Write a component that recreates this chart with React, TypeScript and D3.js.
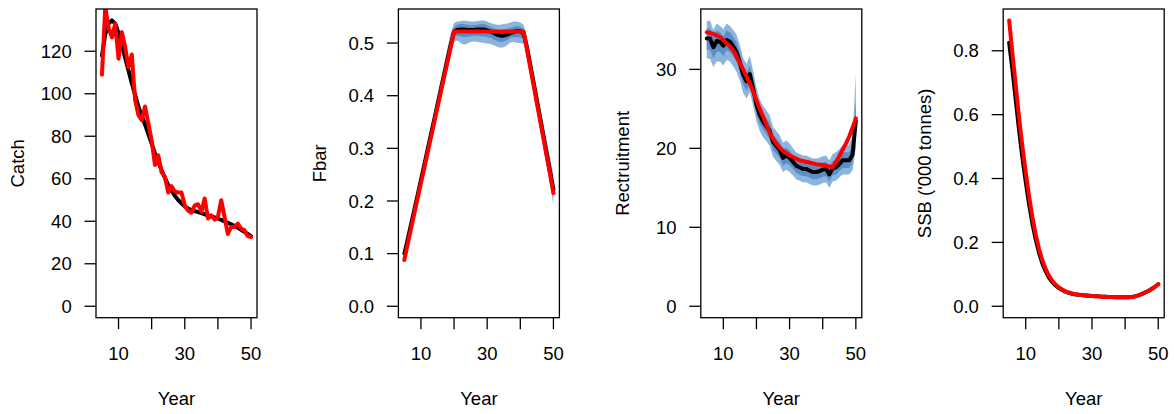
import React from "react";
import * as d3 from "d3";

// ---------- data (years 5..50) ----------
const years = [5, 6, 7, 8, 9, 10, 11, 12, 13, 14, 15, 16, 17, 18, 19, 20, 21, 22, 23, 24, 25, 26, 27, 28, 29, 30, 31, 32, 33, 34, 35, 36, 37, 38, 39, 40, 41, 42, 43, 44, 45, 46, 47, 48, 49, 50];

const xTicks = [10, 20, 30, 40, 50];
const xTickLabels = [10, 30, 50];

// Catch
const catchMedian = [118, 128, 133, 134.5, 133, 128.5, 123, 117, 111, 105, 99.5, 94, 89.5, 85.5, 81, 76.5, 72, 68, 64, 60.5, 57, 54.5, 52, 50, 48.5, 47, 46, 45.3, 44.8, 44.3, 43.8, 43.3, 42.8, 42.3, 41.8, 41.3, 40.6, 40, 39.3, 38.6, 37.8, 37, 36, 35, 34, 33];
const catchObs = [109, 141, 131, 126.5, 133, 116.5, 129, 122, 112.5, 118.5, 97, 90, 87.5, 94, 86, 78, 66.5, 71, 63, 61, 53.5, 56.5, 54, 53.5, 53.5, 47.5, 45, 44, 47.5, 48, 44.5, 50.7, 41.3, 42.8, 40.8, 42, 49.9, 42, 34, 37.3, 37.3, 38.9, 36.5, 35.8, 33, 32.6];
const catchTicks = [0, 20, 40, 60, 80, 100, 120];

// Fbar
const fbarMedian = [0.1, 0.127, 0.155, 0.183, 0.211, 0.24, 0.268, 0.297, 0.326, 0.354, 0.383, 0.412, 0.44, 0.469, 0.497, 0.522, 0.525, 0.526, 0.526, 0.525, 0.525, 0.525, 0.526, 0.526, 0.526, 0.524, 0.522, 0.519, 0.516, 0.514, 0.514, 0.516, 0.519, 0.521, 0.523, 0.523, 0.518, 0.492, 0.459, 0.425, 0.391, 0.357, 0.323, 0.289, 0.255, 0.222];
const fbarObs = [0.088, 0.118, 0.147, 0.176, 0.205, 0.234, 0.262, 0.291, 0.32, 0.349, 0.378, 0.407, 0.436, 0.464, 0.493, 0.522, 0.522, 0.522, 0.522, 0.522, 0.522, 0.522, 0.522, 0.522, 0.522, 0.522, 0.522, 0.522, 0.522, 0.522, 0.522, 0.522, 0.522, 0.522, 0.522, 0.522, 0.522, 0.488, 0.454, 0.42, 0.386, 0.352, 0.318, 0.284, 0.25, 0.215];
const fbarOuterHi = [0.108, 0.136, 0.165, 0.194, 0.223, 0.253, 0.282, 0.312, 0.342, 0.371, 0.401, 0.431, 0.46, 0.49, 0.519, 0.538, 0.541, 0.542, 0.543, 0.542, 0.541, 0.541, 0.542, 0.543, 0.543, 0.541, 0.538, 0.536, 0.535, 0.535, 0.536, 0.537, 0.539, 0.541, 0.541, 0.539, 0.535, 0.51, 0.478, 0.445, 0.412, 0.379, 0.346, 0.313, 0.281, 0.25];
const fbarOuterLo = [0.092, 0.118, 0.145, 0.172, 0.199, 0.227, 0.254, 0.282, 0.31, 0.337, 0.365, 0.393, 0.42, 0.448, 0.475, 0.502, 0.505, 0.5, 0.497, 0.499, 0.502, 0.503, 0.502, 0.501, 0.5, 0.499, 0.498, 0.496, 0.493, 0.491, 0.492, 0.496, 0.501, 0.502, 0.5, 0.5, 0.498, 0.472, 0.44, 0.405, 0.37, 0.335, 0.3, 0.266, 0.23, 0.192];
const fbarInnerHi = [0.104, 0.132, 0.16, 0.189, 0.217, 0.247, 0.275, 0.305, 0.334, 0.363, 0.392, 0.422, 0.45, 0.48, 0.509, 0.531, 0.535, 0.536, 0.536, 0.535, 0.534, 0.534, 0.535, 0.536, 0.536, 0.534, 0.531, 0.528, 0.526, 0.525, 0.526, 0.527, 0.529, 0.531, 0.532, 0.531, 0.527, 0.502, 0.469, 0.436, 0.402, 0.369, 0.335, 0.301, 0.268, 0.236];
const fbarInnerLo = [0.096, 0.122, 0.15, 0.177, 0.205, 0.233, 0.261, 0.289, 0.318, 0.345, 0.374, 0.402, 0.43, 0.458, 0.486, 0.512, 0.514, 0.513, 0.511, 0.512, 0.513, 0.514, 0.514, 0.513, 0.513, 0.511, 0.51, 0.507, 0.504, 0.502, 0.503, 0.506, 0.51, 0.511, 0.511, 0.511, 0.508, 0.482, 0.45, 0.415, 0.381, 0.346, 0.312, 0.278, 0.243, 0.207];
const fbarTicks = [0, 0.1, 0.2, 0.3, 0.4, 0.5];

// Recruitment
const recMedian = [33.9, 33.9, 32.8, 33.6, 33.5, 33.0, 33.7, 33.5, 32.9, 32.2, 30.9, 29.3, 28.5, 29.4, 27.6, 25.5, 24.2, 23.4, 22.8, 22.2, 20.8, 20.3, 19.8, 18.8, 19.1, 18.8, 18.3, 17.8, 17.6, 17.4, 17.4, 17.2, 17.0, 17.0, 17.1, 17.3, 17.4, 16.7, 17.5, 17.6, 18.0, 18.5, 18.5, 18.5, 19.2, 23.5];
const recObs = [34.7, 34.6, 34.5, 34.3, 34.1, 33.7, 33.3, 32.9, 32.4, 31.6, 30.8, 30.0, 29.1, 28.2, 27.2, 26.1, 25.0, 24.0, 23.0, 22.0, 21.2, 20.6, 20.1, 19.7, 19.4, 19.1, 18.9, 18.7, 18.5, 18.4, 18.3, 18.2, 18.1, 18.0, 17.95, 17.9, 17.8, 17.7, 17.6, 18.3, 19.0, 19.8, 20.6, 21.5, 22.6, 23.8];
const recOuterHi = [36.1, 36.2, 35.0, 35.8, 35.5, 35.1, 35.8, 35.5, 35.0, 34.4, 33.1, 31.4, 30.7, 31.7, 29.8, 27.7, 26.2, 25.4, 24.8, 24.2, 22.7, 22.2, 21.7, 20.7, 21.0, 20.6, 20.0, 19.5, 19.3, 19.1, 19.1, 18.9, 18.7, 18.7, 18.8, 19.0, 19.1, 18.5, 19.3, 19.5, 19.9, 20.4, 20.4, 20.5, 21.5, 29.5];
const recOuterLo = [31.4, 31.3, 30.3, 31.0, 31.0, 30.5, 31.2, 31.0, 30.4, 29.7, 28.6, 27.0, 26.3, 27.1, 25.4, 23.4, 22.2, 21.4, 20.9, 20.3, 18.9, 18.4, 17.9, 17.0, 17.3, 17.0, 16.6, 16.1, 15.9, 15.7, 15.7, 15.5, 15.3, 15.3, 15.4, 15.6, 15.7, 15.0, 15.8, 15.9, 16.3, 16.7, 16.7, 16.7, 17.2, 20.0];
const recInnerHi = [35.2, 35.2, 34.1, 34.9, 34.7, 34.2, 34.9, 34.7, 34.1, 33.4, 32.0, 30.4, 29.6, 30.5, 28.7, 26.6, 25.3, 24.4, 23.8, 23.2, 21.8, 21.3, 20.8, 19.8, 20.1, 19.7, 19.2, 18.7, 18.5, 18.3, 18.3, 18.1, 17.9, 17.9, 18.0, 18.2, 18.3, 17.6, 18.4, 18.5, 18.9, 19.5, 19.5, 19.5, 20.3, 26.0];
const recInnerLo = [32.5, 32.5, 31.4, 32.2, 32.2, 31.7, 32.4, 32.2, 31.6, 30.9, 29.7, 28.1, 27.3, 28.2, 26.5, 24.4, 23.1, 22.4, 21.8, 21.2, 19.8, 19.3, 18.8, 17.8, 18.1, 17.9, 17.4, 16.9, 16.7, 16.5, 16.5, 16.3, 16.1, 16.1, 16.2, 16.4, 16.5, 15.8, 16.6, 16.7, 17.1, 17.5, 17.5, 17.5, 18.1, 21.5];
const recTicks = [0, 10, 20, 30];

// SSB
const ssbMedian = [0.825, 0.74, 0.645, 0.55, 0.465, 0.39, 0.32, 0.26, 0.21, 0.168, 0.135, 0.11, 0.09, 0.076, 0.065, 0.057, 0.051, 0.046, 0.042, 0.039, 0.037, 0.036, 0.035, 0.034, 0.033, 0.032, 0.031, 0.031, 0.03, 0.03, 0.029, 0.029, 0.028, 0.028, 0.028, 0.028, 0.028, 0.029, 0.031, 0.034, 0.038, 0.043, 0.048, 0.054, 0.061, 0.069];
const ssbObs = [0.895, 0.79, 0.69, 0.59, 0.5, 0.42, 0.345, 0.28, 0.225, 0.18, 0.145, 0.117, 0.096, 0.08, 0.068, 0.059, 0.052, 0.047, 0.043, 0.04, 0.038, 0.036, 0.035, 0.034, 0.033, 0.032, 0.031, 0.031, 0.03, 0.03, 0.029, 0.029, 0.028, 0.028, 0.028, 0.028, 0.028, 0.029, 0.031, 0.034, 0.038, 0.043, 0.048, 0.054, 0.061, 0.069];
const ssbTicks = [0, 0.2, 0.4, 0.6, 0.8];

// ---------- layout / style ----------
const W = 1174;
const H = 414;
const LEFT0 = 96;
const STEP = 302.4;
const PW = 161;
const TOP = 9;
const BOTTOM = 317.7;
const FONT = "'Liberation Sans', Arial, Helvetica, sans-serif";
const FS = 18.5;
const TICK = 11.5;
const OUTER_COL = "#8cb4dc";
const INNER_COL = "#5b8dc6";

function expand(lo: number, hi: number): [number, number] {
  const r = hi - lo;
  return [lo - 0.04 * r, hi + 0.04 * r];
}

type Band = { lo: number[]; hi: number[]; color: string };

function Panel(props: {
  index: number;
  label: string;
  ticks: number[];
  fmt: (v: number) => string;
  yMax: number;
  median: number[];
  obs: number[];
  bands: Band[];
}) {
  const { index, label, ticks, fmt, yMax, median, obs, bands } = props;
  const x0 = LEFT0 + index * STEP;
  const x = d3
    .scaleLinear()
    .domain(expand(d3.min(years)!, d3.max(years)!))
    .range([x0, x0 + PW]);
  const y = d3.scaleLinear().domain(expand(0, yMax)).range([BOTTOM, TOP]);

  const line = (vals: number[]) =>
    d3
      .line<number>()
      .x((_, i) => x(years[i]))
      .y((d) => y(d))(vals) || "";
  const area = (b: Band) =>
    d3
      .area<number>()
      .x((_, i) => x(years[i]))
      .y0((_, i) => y(b.lo[i]))
      .y1((_, i) => y(b.hi[i]))(years) || "";

  const clipId = `clip-${index}`;
  const mid = (TOP + BOTTOM) / 2;

  return (
    <g>
      <defs>
        <clipPath id={clipId}>
          <rect x={x0} y={TOP} width={PW} height={BOTTOM - TOP} />
        </clipPath>
      </defs>
      <g clipPath={`url(#${clipId})`}>
        {bands.map((b, i) => (
          <path key={i} d={area(b)} fill={b.color} stroke="none" />
        ))}
        <path d={line(median)} fill="none" stroke="#000" strokeWidth={4} strokeLinejoin="round" strokeLinecap="round" />
        <path d={line(obs)} fill="none" stroke="#ff0000" strokeWidth={4} strokeLinejoin="round" strokeLinecap="round" />
      </g>
      <rect x={x0} y={TOP} width={PW} height={BOTTOM - TOP} fill="none" stroke="#000" strokeWidth={1.3} />
      {ticks.map((t) => (
        <g key={`y${t}`}>
          <line x1={x0 - TICK} x2={x0} y1={y(t)} y2={y(t)} stroke="#000" strokeWidth={1.3} />
          <text x={x0 - 24.3} y={y(t) + 6.6} textAnchor="end" fontFamily={FONT} fontSize={FS} fill="#000">
            {fmt(t)}
          </text>
        </g>
      ))}
      {xTicks.map((t) => (
        <line key={`x${t}`} x1={x(t)} x2={x(t)} y1={BOTTOM} y2={BOTTOM + TICK} stroke="#000" strokeWidth={1.3} />
      ))}
      {xTickLabels.map((t) => (
        <text key={`xl${t}`} x={x(t)} y={360} textAnchor="middle" fontFamily={FONT} fontSize={FS} fill="#000">
          {t}
        </text>
      ))}
      <text x={x0 + PW / 2} y={405} textAnchor="middle" fontFamily={FONT} fontSize={FS} fill="#000">
        Year
      </text>
      <text
        transform={`translate(${x0 - 72},${mid}) rotate(-90)`}
        textAnchor="middle"
        fontFamily={FONT}
        fontSize={FS}
        fill="#000"
      >
        {label}
      </text>
    </g>
  );
}

export default function App() {
  const f0 = (v: number) => d3.format("d")(v);
  const f1 = (v: number) => d3.format(".1f")(v);
  return (
    <svg
      width={W}
      height={H}
      viewBox={`0 0 ${W} ${H}`}
      style={{ position: "absolute", left: 0, top: 0, display: "block", background: "#fff" }}
    >
      <rect x={0} y={0} width={W} height={H} fill="#fff" />
      <Panel index={0} label="Catch" ticks={catchTicks} fmt={f0} yMax={d3.max(catchMedian)!} median={catchMedian} obs={catchObs} bands={[]} />
      <Panel
        index={1}
        label="Fbar"
        ticks={fbarTicks}
        fmt={f1}
        yMax={d3.max(fbarOuterHi)!}
        median={fbarMedian}
        obs={fbarObs}
        bands={[
          { lo: fbarOuterLo, hi: fbarOuterHi, color: OUTER_COL },
          { lo: fbarInnerLo, hi: fbarInnerHi, color: INNER_COL },
        ]}
      />
      <Panel
        index={2}
        label="Rectruitment"
        ticks={recTicks}
        fmt={f0}
        yMax={d3.max(recOuterHi)!}
        median={recMedian}
        obs={recObs}
        bands={[
          { lo: recOuterLo, hi: recOuterHi, color: OUTER_COL },
          { lo: recInnerLo, hi: recInnerHi, color: INNER_COL },
        ]}
      />
      <Panel index={3} label="SSB ('000 tonnes)" ticks={ssbTicks} fmt={f1} yMax={d3.max(ssbObs)!} median={ssbMedian} obs={ssbObs} bands={[]} />
    </svg>
  );
}
